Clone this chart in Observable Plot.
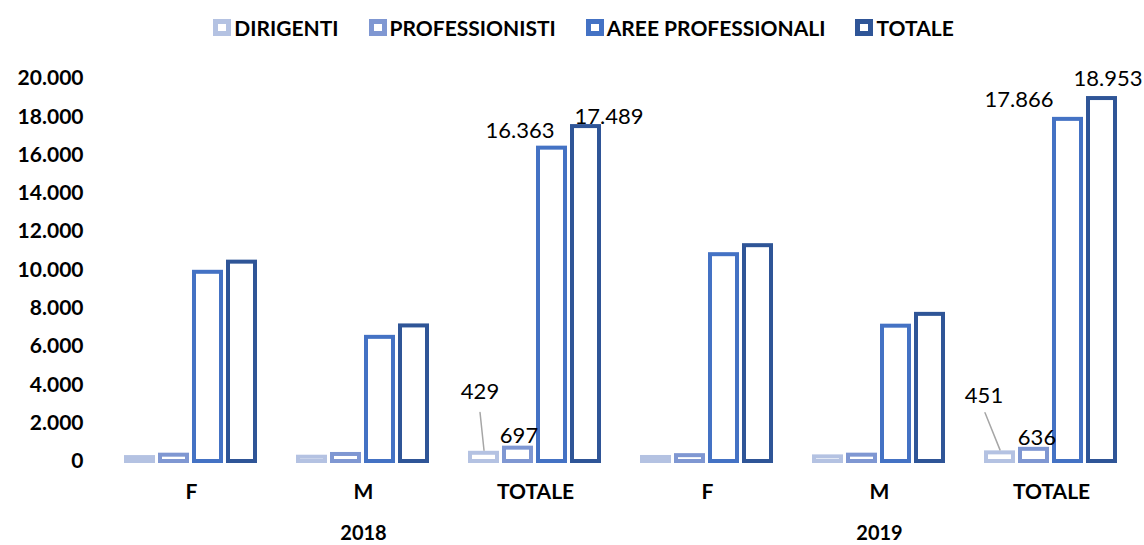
<!DOCTYPE html>
<html>
<head>
<meta charset="utf-8">
<script src="https://cdn.jsdelivr.net/npm/d3@7"></script>
<script src="https://cdn.jsdelivr.net/npm/@observablehq/plot@0.6"></script>
<style>
  html, body { margin: 0; padding: 0; background: #fff; }
  body { width: 1144px; height: 545px; overflow: hidden; font-family: Lato, "Open Sans", sans-serif; }
  #legend { height: 50px; display: flex; justify-content: center; align-items: center; padding-left: 23px; padding-top: 4px; box-sizing: border-box; font-weight: bold; font-size: 21px; color: #000; }
  .item { display: flex; align-items: center; margin: 0 15px; }
  .sw { width: 18px; height: 17px; box-sizing: border-box; border: 5px solid; background: #fff; margin-right: 3px; }
</style>
</head>
<body>
<div id="legend"></div>
<div id="chart"></div>
<script>
// ---- data ----
const years = ["2018", "2019"];
const categories = ["F", "M", "TOTALE"];
const series = ["DIRIGENTI", "PROFESSIONISTI", "AREE PROFESSIONALI", "TOTALE"];
const colors = ["#B4C2E2", "#7F97D2", "#4472C4", "#2F5597"];
// order: 2018 F, 2018 M, 2018 TOTALE, 2019 F, 2019 M, 2019 TOTALE
const dirigenti = [205, 224, 429, 210, 241, 451];
const professionisti = [330, 367, 697, 305, 331, 636];
const areeProfessionali = [9880, 6483, 16363, 10800, 7066, 17866];
const totale = [10410, 7079, 17489, 11270, 7683, 18953];
const yTicks = [0, 2000, 4000, 6000, 8000, 10000, 12000, 14000, 16000, 18000, 20000];

const valuesBySeries = [dirigenti, professionisti, areeProfessionali, totale];
const groupKeys = years.flatMap(y => categories.map(c => `${y} ${c}`));
const rows = [];
groupKeys.forEach((g, gi) => {
  series.forEach((s, si) => rows.push({group: g, series: s, value: valuesBySeries[si][gi]}));
});

const itLocale = d3.formatLocale({decimal: ",", thousands: ".", grouping: [3], currency: ["€", ""]});
const fmt = itLocale.format(",d");

// annotation layout (pixels): label offsets [dx, dy] per series, and leader line [length, angle]
const labelLayout = {
  "2018 TOTALE": [[-4, -61], [1, -12], [-32, -17], [23, -10]],
  "2019 TOTALE": [[-16, -57], [3, -11], [-49, -19], [6, -20]]
};
const leaderLayout = {"2018 TOTALE": [38, -6], "2019 TOTALE": [40, -22]};

const lineShape = {draw(context, l) { context.moveTo(0, 0); context.lineTo(0, -l); }};

const labelMarks = [];
Object.entries(labelLayout).forEach(([g, offs]) => {
  series.forEach((s, si) => {
    const d = rows.filter(r => r.group === g && r.series === s);
    labelMarks.push(Plot.text(d, {
      fx: "group", x: "series", y: "value", text: r => fmt(r.value),
      dx: offs[si][0], dy: offs[si][1], fontWeight: "normal", fontSize: 22, fill: "#000"
    }));
  });
  const dd = rows.filter(r => r.group === g && r.series === "DIRIGENTI");
  labelMarks.push(Plot.vector(dd, {
    fx: "group", x: "series", y: "value", dy: -3,
    length: leaderLayout[g][0], rotate: leaderLayout[g][1], anchor: "start",
    shape: lineShape, stroke: "#A6A6A6", strokeWidth: 1.5
  }));
});

const chart = Plot.plot({
  width: 1144,
  height: 495,
  marginLeft: 104,
  marginRight: 7,
  marginTop: 28,
  marginBottom: 84,
  style: {fontFamily: "Lato, 'Open Sans', sans-serif", fontSize: "21px", fontWeight: "bold", color: "#000", background: "#fff"},
  fx: {domain: groupKeys, padding: 0, label: null, axis: "bottom", tickSize: 0, tickPadding: 23, tickFormat: k => k.split(" ")[1]},
  x: {domain: series, paddingInner: 0.2, paddingOuter: 0.58, axis: null},
  y: {domain: [0, 20000], ticks: yTicks, tickFormat: fmt, tickSize: 0, tickPadding: 22, label: null},
  color: {domain: series, range: colors},
  marks: [
    Plot.barY(rows, {fx: "group", x: "series", y: "value", fill: "white", stroke: "series", strokeWidth: 4}),
    ...labelMarks,
    Plot.text([{group: "2018 M", t: years[0]}, {group: "2019 M", t: years[1]}], {
      fx: "group", text: "t", frameAnchor: "bottom", dy: 78, fontWeight: "bold", fontSize: 20, fill: "#000"
    })
  ]
});
document.getElementById("chart").appendChild(chart);

const legend = document.getElementById("legend");
series.forEach((s, i) => {
  const item = document.createElement("div");
  item.className = "item";
  const sw = document.createElement("span");
  sw.className = "sw";
  sw.style.borderColor = colors[i];
  const t = document.createElement("span");
  t.textContent = s;
  item.appendChild(sw); item.appendChild(t);
  legend.appendChild(item);
});
</script>
</body>
</html>
